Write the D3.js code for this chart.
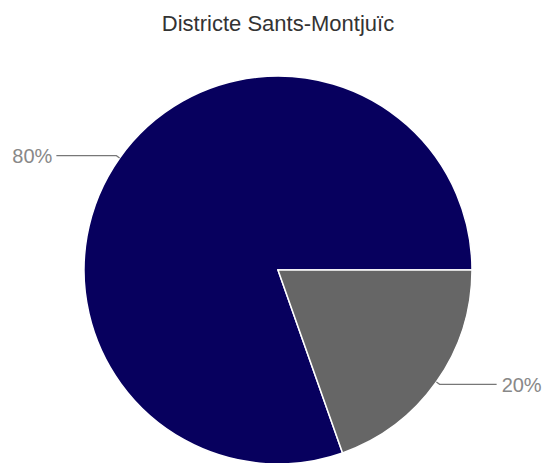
<!DOCTYPE html>
<html>
<head>
<meta charset="utf-8">
<script src="https://cdn.jsdelivr.net/npm/d3@7"></script>
<style>
  body { margin: 0; background: #fff; }
  text { font-family: "Liberation Sans", Arial, sans-serif; }
</style>
</head>
<body>
<div id="chart"></div>
<script>
var title = "Districte Sants-Montjuïc";
var categories = ["A", "B"];
var values = [80.4, 19.6];
var colors = ["#07005e", "#666666"];

var width = 551, height = 463,
  cx = 278, cy = 270,
  radius = 194;

var svg = d3.select("#chart").append("svg")
  .attr("width", width)
  .attr("height", height);

svg.append("text")
  .attr("x", cx)
  .attr("y", 31)
  .attr("text-anchor", "middle")
  .style("font-size", "22px")
  .style("fill", "#333")
  .text(title);

var total = d3.sum(values);

// small slice sits from 3 o'clock clockwise, big one fills the rest
var start = Math.PI / 2 + 2 * Math.PI * values[1] / total;
var pie = d3.pie()
  .sort(null)
  .startAngle(start)
  .endAngle(start + 2 * Math.PI);

var arc = d3.arc().innerRadius(0).outerRadius(radius);

var g = svg.append("g").attr("transform", "translate(" + cx + "," + cy + ")");

var slices = pie(values);

g.selectAll("path")
  .data(slices)
  .enter().append("path")
  .attr("d", arc)
  .style("fill", function(d, i) { return colors[i]; })
  .style("stroke", "#fff")
  .style("stroke-width", 1.5);

// labels with leader lines
var fmt = function(v) { return Math.round(v / total * 100) + "%"; };

slices.forEach(function(d) {
  var a = (d.startAngle + d.endAngle) / 2;
  var x0 = Math.sin(a) * radius, y0 = -Math.cos(a) * radius;
  var x1 = Math.sin(a) * (radius + 4), y1 = -Math.cos(a) * (radius + 4);
  var right = x0 > 0;
  var x2 = right ? x1 + 57 : x1 - 60;
  g.append("path")
    .attr("d", "M" + x0 + "," + y0 + "L" + x1 + "," + y1 + "L" + x2 + "," + y1)
    .style("fill", "none")
    .style("stroke", "#777")
    .style("stroke-width", 1.2);
  g.append("text")
    .attr("x", right ? x2 + 5 : x2 - 4)
    .attr("y", y1)
    .attr("dy", "0.36em")
    .attr("text-anchor", right ? "start" : "end")
    .style("font-size", "20px")
    .style("fill", "#888")
    .text(fmt(d.data));
});
</script>
</body>
</html>
